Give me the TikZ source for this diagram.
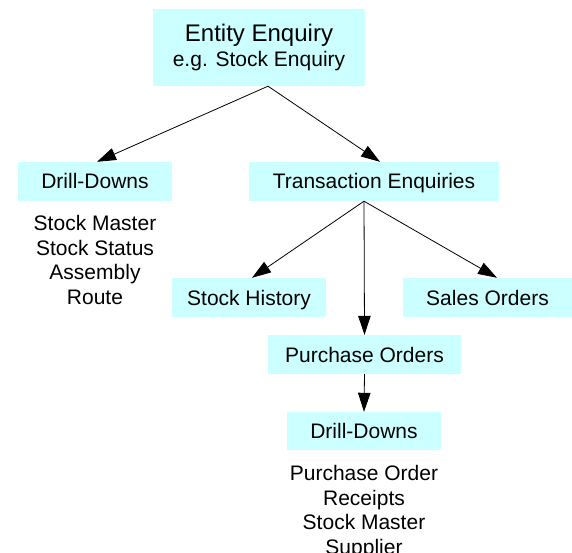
\documentclass[tikz,border=0pt]{standalone}
\usepackage{fontspec}
\setmainfont{Liberation Sans}
\usepackage{tikz}
\usetikzlibrary{arrows.meta,positioning}
\definecolor{boxcyan}{RGB}{204,255,255}
\tikzset{
  enqbox/.style={fill=boxcyan,inner sep=0pt,align=center,
    font=\fontsize{21}{24.5}\selectfont},
  onebox/.style={enqbox,text height=15pt,text depth=0pt,minimum height=39pt},
  enqlist/.style={inner sep=0pt,align=center,
    font=\fontsize{21}{24.5}\selectfont},
  enqarrow/.style={line width=0.8pt,-{Triangle[length=19pt,width=12.5pt]}}
}
\begin{document}
\begin{tikzpicture}[x=1pt,y=-1pt]
              \useasboundingbox (0,0) rectangle (572,553);
              \node[enqbox,minimum width=212pt,minimum height=77pt] (top) at (259,47.5)
                {{\fontsize{24}{24}\selectfont Entity Enquiry}\\ e.g. Stock Enquiry};
              \node[onebox,minimum width=154pt] (dd1) at (95,181.5) {Drill-Downs};
              \node[onebox,minimum width=250pt] (trans) at (374,181.5) {Transaction Enquiries};
              \node[onebox,minimum width=154pt] (hist) at (249,297.5) {Stock History};
              \node[onebox,minimum width=169pt] (sales) at (487.5,297.5) {Sales Orders};
              \node[onebox,minimum width=193pt] (po) at (364.5,354.5) {Purchase Orders};
              \node[onebox,minimum width=154pt,minimum height=38pt] (dd2) at (364,431) {Drill-Downs};
              \node[enqlist,below=14pt of dd1] (ddlist1)
                {Stock Master\\ Stock Status\\ Assembly\\ Route};
              \node[enqlist,below=15pt of dd2] (ddlist2)
                {Purchase Order\\ Receipts\\ Stock Master\\ Supplier};
              \draw[enqarrow] ([xshift=9pt]top.south) -- ([xshift=2pt]dd1.north);
              \draw[enqarrow] ([xshift=9pt]top.south) -- ([xshift=6pt]trans.north);
              \draw[enqarrow] ([xshift=-10pt]trans.south) -- ([xshift=3pt]hist.north);
              \draw[enqarrow] ([xshift=-10pt]trans.south) -- ([xshift=9.5pt]sales.north);
              \draw[enqarrow] ([xshift=-10pt]trans.south) -- (po.north);
              \draw[enqarrow] (po.south) -- (dd2.north);

            \end{tikzpicture}
\end{document}
